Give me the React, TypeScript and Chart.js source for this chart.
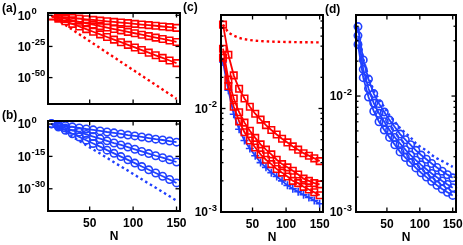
import React, { useEffect, useRef } from "react";
import { Chart, registerables } from "chart.js";

Chart.register(...registerables);

const FONT = "'Liberation Sans', Arial, Helvetica, sans-serif";
const RED = "#ff0000";
const BLUE = "#2040ff";

// N values (shared by all panels)
const N = [6, 14, 22, 30, 38, 46, 54, 62, 70, 78, 86, 94, 102, 110, 118, 126, 134, 142, 150];

// Panel (a): log10 of the plotted values (read in decades)
const aSquares1Exp = [-0.7, -1.2, -1.7, -2.2, -2.7, -3.2, -3.7, -4.3, -4.8, -5.3, -5.8, -6.3, -6.9, -7.4, -7.9, -8.4, -9.0, -9.5, -10.1];
const aSquares2Exp = [-0.7, -1.8, -2.9, -4.1, -5.2, -6.4, -7.5, -8.7, -9.8, -11.0, -12.1, -13.3, -14.4, -15.6, -16.7, -17.9, -19.0, -20.2, -21.4];
const aSquares3Exp = [-0.7, -2.7, -4.8, -6.9, -9.0, -11.1, -13.2, -15.3, -17.4, -19.5, -21.6, -23.7, -25.8, -27.9, -30.0, -32.1, -34.2, -36.3, -38.4];
const aDottedExp = [-0.4, -4.1, -7.8, -11.5, -15.2, -18.9, -22.6, -26.3, -30.0, -33.7, -37.4, -41.1, -44.8, -48.5, -52.2, -55.9, -59.6, -63.3, -67.0];

// Panel (b): log10 of the plotted values
const bCircles1Exp = [0.1, -0.4, -0.8, -1.3, -1.8, -2.3, -2.7, -3.2, -3.7, -4.1, -4.6, -5.1, -5.5, -6.0, -6.5, -7.0, -7.4, -7.9, -8.4];
const bCircles2Exp = [0.1, -0.9, -1.9, -2.9, -3.8, -4.8, -5.8, -6.8, -7.8, -8.8, -9.7, -10.7, -11.7, -12.7, -13.7, -14.7, -15.6, -16.6, -17.6];
const bCircles3Exp = [0.1, -1.4, -2.9, -4.5, -6.0, -7.5, -9.0, -10.5, -12.1, -13.6, -15.1, -16.6, -18.1, -19.7, -21.2, -22.7, -24.2, -25.7, -27.3];
const bDottedExp = [0.1, -1.9, -3.9, -5.8, -7.8, -9.8, -11.8, -13.7, -15.7, -17.7, -19.7, -21.6, -23.6, -25.6, -27.6, -29.5, -31.5, -33.5, -35.5];

// Panel (c)
const cSquares1 = [0.0646, 0.033, 0.0209, 0.0155, 0.0125, 0.0104, 0.0089, 0.0078, 0.0069, 0.0062, 0.0056, 0.0051, 0.0047, 0.0043, 0.004, 0.0037, 0.0035, 0.0033, 0.0031];
const cSquares2 = [0.0378, 0.019, 0.0125, 0.0092, 0.0073, 0.0061, 0.0052, 0.0045, 0.004, 0.0036, 0.0032, 0.0029, 0.0027, 0.0025, 0.0023, 0.0021, 0.002, 0.0019, 0.00185];
const cSquares3 = [0.031, 0.0165, 0.0104, 0.0075, 0.0059, 0.0049, 0.0042, 0.0036, 0.0032, 0.0029, 0.0026, 0.0024, 0.0022, 0.002, 0.0019, 0.00175, 0.00165, 0.00155, 0.00145];
const cPlus = [0.0281, 0.015, 0.0088, 0.0063, 0.0049, 0.0041, 0.0035, 0.003, 0.0027, 0.0024, 0.0022, 0.002, 0.00181, 0.00168, 0.00157, 0.00147, 0.00138, 0.00129, 0.0012];
const cDotted = [0.0646, 0.054, 0.0505, 0.048, 0.0467, 0.0458, 0.0452, 0.0448, 0.0445, 0.0443, 0.0441, 0.044, 0.0439, 0.0438, 0.0437, 0.0436, 0.0436, 0.0435, 0.0435];

// Panel (d)
const dCircles1 = [0.0397, 0.0205, 0.014, 0.0105, 0.0086, 0.0073, 0.0062, 0.0054, 0.0047, 0.0042, 0.0038, 0.0034, 0.0031, 0.00285, 0.00262, 0.00242, 0.00225, 0.0021, 0.00197];
const dCircles2 = [0.0332, 0.017, 0.0116, 0.0087, 0.0071, 0.006, 0.0051, 0.0044, 0.0039, 0.00345, 0.0031, 0.0028, 0.00255, 0.00234, 0.00215, 0.00199, 0.00185, 0.00173, 0.00162];
const dCircles3 = [0.0279, 0.0144, 0.0098, 0.0074, 0.006, 0.0051, 0.0044, 0.0038, 0.0033, 0.00295, 0.00267, 0.0024, 0.00218, 0.002, 0.00184, 0.0017, 0.00158, 0.00148, 0.00139];
const dDotted = [0.0397, 0.0209, 0.0146, 0.0111, 0.0093, 0.008, 0.0068, 0.006, 0.0053, 0.0048, 0.0044, 0.0039, 0.0036, 0.0034, 0.0031, 0.0029, 0.00275, 0.0026, 0.00245];

// Tick values
const xTickValues = [50, 100, 150];
const aYTicks = [0, -25, -50]; // exponents
const bYTicks = [0, -15, -30];
const cdYTicks = [-2, -3];

const fromExp = (arr: number[]) => arr.map((e) => Math.pow(10, e));

type Series = {
  values: number[];
  color: string;
  marker: "rect" | "circle" | "cross" | null;
  dotted?: boolean;
};

type PanelSpec = {
  series: Series[];
  xMin: number;
  xMax: number;
  yMin: number;
  yMax: number;
  yTickExps: number[];
  minor: boolean;
  xLabels: boolean;
  tenOffset: number;
  letter: string;
  letterX: number;
  letterY: number;
  padding: { left: number; top: number; right: number; bottom: number };
};

const W = 463;
const H = 245;

const axesPlugin = {
  id: "matlabAxes",
  afterDatasetsDraw(chart: any, _args: any, opts: any) {
    const ctx = chart.ctx as CanvasRenderingContext2D;
    const { left, right, top, bottom } = chart.chartArea;
    const xs = chart.scales.x;
    const ys = chart.scales.y;
    ctx.save();
    ctx.strokeStyle = "#000";
    ctx.fillStyle = "#000";
    ctx.lineWidth = 1.3;
    const line = (x1: number, y1: number, x2: number, y2: number) => {
      ctx.beginPath();
      ctx.moveTo(x1, y1);
      ctx.lineTo(x2, y2);
      ctx.stroke();
    };
    const major = 4.5;
    const minorLen = 2.5;
    for (const v of xTickValues) {
      const px = xs.getPixelForValue(v);
      line(px, bottom, px, bottom - major);
      line(px, top, px, top + major);
    }
    for (const e of opts.yTickExps) {
      const py = ys.getPixelForValue(Math.pow(10, e));
      line(left, py, left + major, py);
      line(right, py, right - major, py);
    }
    if (opts.minor) {
      for (const dec of [-3, -2]) {
        for (let m = 2; m <= 9; m++) {
          const v = m * Math.pow(10, dec);
          if (v >= ys.max) continue;
          const py = ys.getPixelForValue(v);
          line(left, py, left + minorLen, py);
          line(right, py, right - minorLen, py);
        }
      }
    }
    ctx.lineWidth = 2;
    ctx.strokeRect(left, top, right - left, bottom - top);

    // y tick labels 10^e
    for (const e of opts.yTickExps) {
      const py = ys.getPixelForValue(Math.pow(10, e));
      const xr = left - opts.tenOffset;
      ctx.font = `bold 12px ${FONT}`;
      ctx.textAlign = "right";
      ctx.textBaseline = "middle";
      ctx.fillText("10", xr, py + 1);
      ctx.font = `bold 9.5px ${FONT}`;
      ctx.textAlign = "left";
      ctx.fillText(String(e), xr + 0.5, py - 4);
    }
    if (opts.xLabels) {
      ctx.font = `bold 12px ${FONT}`;
      ctx.textAlign = "center";
      ctx.textBaseline = "middle";
      for (const v of xTickValues) {
        ctx.fillText(String(v), xs.getPixelForValue(v), bottom + 13);
      }
      ctx.fillText("N", (left + right) / 2, bottom + 26);
    }
    ctx.font = `bold 12px ${FONT}`;
    ctx.textAlign = "left";
    ctx.textBaseline = "middle";
    ctx.fillText(opts.letter, opts.letterX, opts.letterY);
    ctx.restore();
  },
};

function PanelChart({ spec }: { spec: PanelSpec }) {
  const ref = useRef<HTMLCanvasElement | null>(null);
  useEffect(() => {
    if (!ref.current) return;
    const datasets = spec.series.map((s) => ({
      data: N.map((x, i) => ({ x, y: s.values[i] })),
      borderColor: s.color,
      backgroundColor: s.color,
      borderWidth: s.dotted ? 2.4 : 1.8,
      borderDash: s.dotted ? [2.5, 3] : [],
      pointStyle: s.marker || "circle",
      pointRadius: s.marker ? (s.marker === "rect" ? 4.6 : s.marker === "cross" ? 4 : 3.7) : 0,
      pointBorderColor: s.color,
      pointBackgroundColor: "rgba(255,255,255,0)",
      pointBorderWidth: 1.6,
      tension: 0,
      clip: false as any,
    }));
    const chart = new Chart(ref.current, {
      type: "line",
      data: { datasets },
      options: {
        animation: false,
        responsive: false,
        events: [],
        layout: { padding: spec.padding },
        plugins: {
          legend: { display: false },
          tooltip: { enabled: false },
          matlabAxes: {
            yTickExps: spec.yTickExps,
            minor: spec.minor,
            xLabels: spec.xLabels,
            tenOffset: spec.tenOffset,
            letter: spec.letter,
            letterX: spec.letterX,
            letterY: spec.letterY,
          },
        } as any,
        scales: {
          x: { type: "linear", min: spec.xMin, max: spec.xMax, display: false },
          y: { type: "logarithmic", min: spec.yMin, max: spec.yMax, display: false },
        },
      },
      plugins: [axesPlugin as any],
    });
    return () => chart.destroy();
  }, [spec]);
  return (
    <canvas
      ref={ref}
      width={W}
      height={H}
      style={{ position: "absolute", left: 0, top: 0, width: W, height: H }}
    />
  );
}

const panels: PanelSpec[] = [
  {
    series: [
      { values: fromExp(aSquares1Exp), color: RED, marker: "rect" },
      { values: fromExp(aSquares2Exp), color: RED, marker: "rect" },
      { values: fromExp(aSquares3Exp), color: RED, marker: "rect" },
      { values: fromExp(aDottedExp), color: RED, marker: null, dotted: true },
    ],
    xMin: 2, xMax: 154,
    yMin: Math.pow(10, -71.2), yMax: Math.pow(10, 1.85),
    yTickExps: aYTicks, minor: false, xLabels: false, tenOffset: 17,
    letter: "(a)", letterX: 2, letterY: 9,
    padding: { left: 48, top: 13, right: W - 180, bottom: H - 104 },
  },
  {
    series: [
      { values: fromExp(bCircles1Exp), color: BLUE, marker: "circle" },
      { values: fromExp(bCircles2Exp), color: BLUE, marker: "circle" },
      { values: fromExp(bCircles3Exp), color: BLUE, marker: "circle" },
      { values: fromExp(bDottedExp), color: BLUE, marker: null, dotted: true },
    ],
    xMin: 2, xMax: 154,
    yMin: Math.pow(10, -40.3), yMax: Math.pow(10, 1.4),
    yTickExps: bYTicks, minor: false, xLabels: true, tenOffset: 17,
    letter: "(b)", letterX: 2, letterY: 116,
    padding: { left: 48, top: 121, right: W - 180, bottom: H - 211 },
  },
  {
    series: [
      { values: cDotted, color: RED, marker: null, dotted: true },
      { values: cSquares1, color: RED, marker: "rect" },
      { values: cSquares2, color: RED, marker: "rect" },
      { values: cSquares3, color: RED, marker: "rect" },
      { values: cPlus, color: BLUE, marker: "cross" },
    ],
    xMin: 3, xMax: 155,
    yMin: 0.001, yMax: 0.08,
    yTickExps: cdYTicks, minor: true, xLabels: true, tenOffset: 13,
    letter: "(c)", letterX: 183, letterY: 8,
    padding: { left: 221, top: 15, right: W - 323, bottom: H - 212 },
  },
  {
    series: [
      { values: dDotted, color: BLUE, marker: null, dotted: true },
      { values: dCircles1, color: BLUE, marker: "circle" },
      { values: dCircles2, color: BLUE, marker: "circle" },
      { values: dCircles3, color: BLUE, marker: "circle" },
    ],
    xMin: 3, xMax: 155,
    yMin: 0.001, yMax: 0.05,
    yTickExps: cdYTicks, minor: true, xLabels: true, tenOffset: 13,
    letter: "(d)", letterX: 325, letterY: 10,
    padding: { left: 356, top: 15, right: W - 456, bottom: H - 212 },
  },
];

export default function App() {
  return (
    <div style={{ position: "fixed", left: 0, top: 0, width: W, height: H, background: "#fff" }}>
      {panels.map((p, i) => (
        <PanelChart key={i} spec={p} />
      ))}
    </div>
  );
}
